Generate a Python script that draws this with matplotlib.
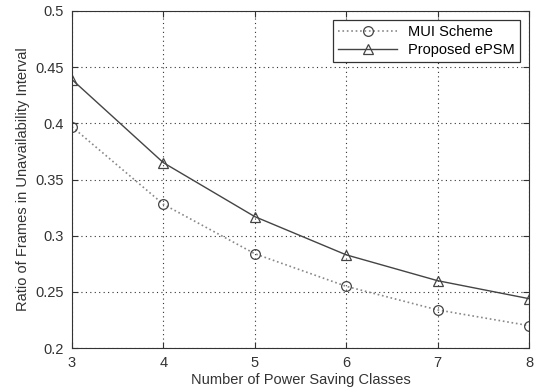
import matplotlib
matplotlib.use("Agg")
import matplotlib.pyplot as plt

plt.rcParams['font.family'] = ['Liberation Sans', 'DejaVu Sans']

classes = [3, 4, 5, 6, 7, 8]
mui = [0.397, 0.328, 0.284, 0.255, 0.234, 0.220]
epsm = [0.439, 0.365, 0.317, 0.283, 0.260, 0.244]

fig = plt.figure(figsize=(5.37, 3.92), dpi=100)
ax = fig.add_axes([0.134, 0.112, 0.851, 0.860])

ax.plot(classes, mui, linestyle=':', color='#888888', lw=1.2,
        marker='o', mfc='none', mec='#444444', ms=7, mew=0.9, label='MUI Scheme')
ax.plot(classes, epsm, linestyle='-', color='#444444', lw=1.0,
        marker='^', mfc='none', mec='#444444', ms=7, mew=0.9, label='Proposed ePSM')

ax.set_xlim(3, 8)
ax.set_ylim(0.2, 0.5)
ax.set_xticks(classes)
ax.set_yticks([0.2, 0.25, 0.3, 0.35, 0.4, 0.45, 0.5])
ax.set_yticklabels(['0.2', '0.25', '0.3', '0.35', '0.4', '0.45', '0.5'])
ax.grid(True, linestyle=(0, (1, 3)), color='#333333', lw=0.8)
ax.tick_params(direction='in', labelsize=10.5, colors='#333333', length=4,
               top=True, right=True, pad=6)
for s in ax.spines.values():
    s.set_color('#333333')

ax.set_xlabel('Number of Power Saving Classes', fontsize=10.5, color='#333333', labelpad=2)
ax.set_ylabel('Ratio of Frames in Unavailability Interval', fontsize=10.5, color='#333333')

leg = ax.legend(loc='upper right', fontsize=10.5, fancybox=False, framealpha=1,
                edgecolor='#333333', borderpad=0.35, handlelength=4,
                labelspacing=0.3, borderaxespad=0.6)
leg.get_frame().set_linewidth(0.9)

fig.savefig('out.png', dpi=100)
